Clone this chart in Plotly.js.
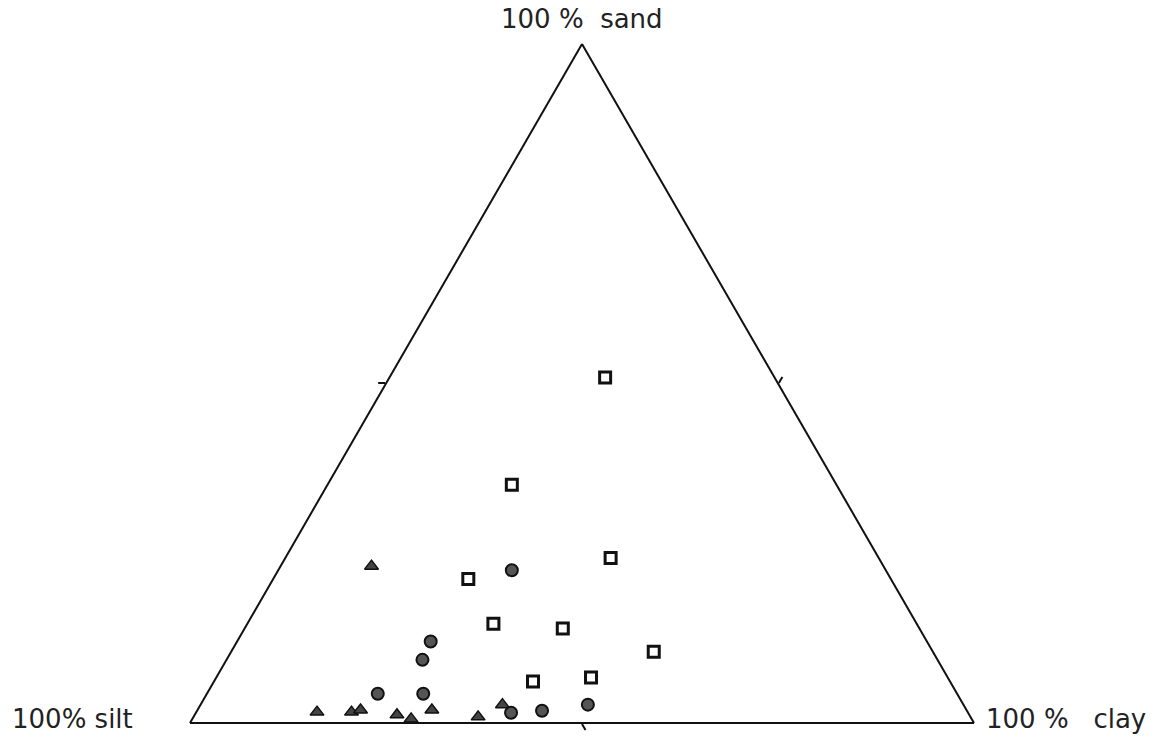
<!DOCTYPE html>
<html>
<head>
<meta charset="utf-8">
<script src="https://cdn.plot.ly/plotly-3.0.1.min.js"></script>
<style>html,body{margin:0;padding:0;background:#fff;}#chart{width:1161px;height:738px;}</style>
</head>
<body>
<div id="chart"></div>
<script>
// Composition in percent (sand, silt, clay) for each sample group
var triSand = [23.1, 1.6, 1.6, 1.9, 1.2, 0.6, 1.9, 0.9, 2.7];
var triSilt = [65.3, 83.0, 78.6, 77.3, 73.0, 71.5, 68.2, 62.8, 58.8];
var triClay = [11.6, 15.4, 19.8, 20.8, 25.8, 27.9, 29.9, 36.3, 38.5];

var cirSand = [22.5, 12.0, 9.3, 4.3, 4.3, 1.5, 1.8, 2.7];
var cirSilt = [47.7, 63.3, 65.7, 73.9, 68.1, 58.3, 54.2, 47.9];
var cirClay = [29.8, 24.7, 25.0, 21.8, 27.6, 40.2, 44.0, 49.4];

var sqSand = [50.9, 35.1, 24.3, 21.2, 14.6, 13.9, 10.5, 6.1, 6.7];
var sqSilt = [21.6, 41.4, 34.2, 53.9, 54.0, 45.5, 35.6, 53.2, 45.5];
var sqClay = [27.5, 23.5, 41.5, 24.9, 31.4, 40.6, 53.9, 40.7, 47.8];

var cornerLabels = ['100 %\u00a0 sand', '100% silt', '100 %\u00a0\u00a0 clay'];
var tickValues = [50];

var traces = [
  {type: 'scatterternary', mode: 'markers', a: triSand, b: triSilt, c: triClay, cliponaxis: false,
   marker: {symbol: 'triangle-up', size: 12, color: '#444', line: {color: '#111', width: 1.5}}},
  {type: 'scatterternary', mode: 'markers', a: cirSand, b: cirSilt, c: cirClay, cliponaxis: false,
   marker: {symbol: 'circle', size: 12, color: '#555', line: {color: '#111', width: 2}}},
  {type: 'scatterternary', mode: 'markers', a: sqSand, b: sqSilt, c: sqClay, cliponaxis: false,
   marker: {symbol: 'square', size: 11, color: '#fff', line: {color: '#111', width: 3}}}
];

function ax() {
  return {showgrid: false, showticklabels: false, ticks: 'outside', ticklen: 7,
          tickwidth: 2, tickcolor: '#111', tickmode: 'array', tickvals: tickValues,
          linecolor: '#111', linewidth: 2, showline: true, title: {text: ''}};
}

var fnt = {family: '"DejaVu Sans", sans-serif', size: 26, color: '#222'};

var layout = {
  width: 1161, height: 738,
  margin: {l: 190, r: 187, t: 44, b: 15},
  paper_bgcolor: '#fff',
  showlegend: false,
  ternary: {sum: 100, bgcolor: '#fff', aaxis: ax(), baxis: ax(), caxis: ax()},
  annotations: [
    {xref: 'paper', yref: 'paper', x: 0.5, y: 1, yanchor: 'bottom', yshift: 8, xanchor: 'center', text: cornerLabels[0], showarrow: false, font: fnt},
    {xref: 'paper', yref: 'paper', x: 0, xshift: -55, y: 0, yanchor: 'middle', yshift: 4, xanchor: 'right', text: cornerLabels[1], showarrow: false, font: fnt},
    {xref: 'paper', yref: 'paper', x: 1, xshift: 10, y: 0, yanchor: 'middle', yshift: 4, xanchor: 'left', text: cornerLabels[2], showarrow: false, font: fnt}
  ]
};

Plotly.newPlot('chart', traces, layout, {displayModeBar: false, staticPlot: true});
</script>
</body>
</html>
